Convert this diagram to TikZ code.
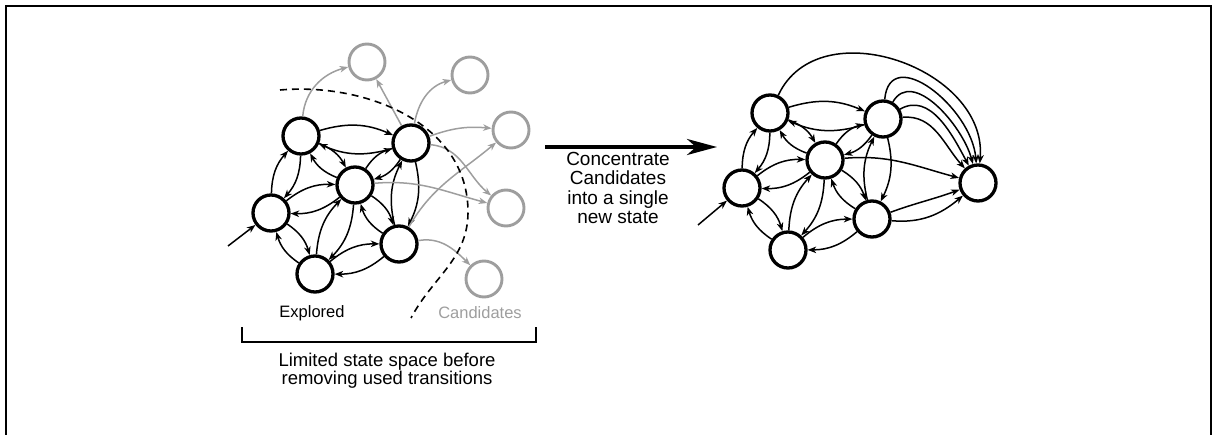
\documentclass[tikz,border=0pt]{standalone}
\usepackage{fontspec}
\setmainfont{Liberation Sans}
\usetikzlibrary{arrows.meta,positioning}
\definecolor{candgray}{RGB}{158,158,158}
\tikzset{
  every picture/.style = {
    x = 1pt,
    y = 1pt,
    >={Stealth[length=8.5pt,width=6.5pt,inset=2.5pt]},
  }
  ,
  state/.style = {
    circle,
    draw,
    fill = white,
    line width = 3.3pt,
    minimum size = 36pt,
    inner sep = 0pt
  }
  , % states not yet explored
  cand/.style = {
    state,
    draw = candgray,
    line width = 2.9pt
  }
  , % transitions inside the explored part
  trans/.style = {
    ->,
    line width = 1.5pt,
    bend left = 20
  }
  , % transitions leaving the explored part
  cand-trans/.style = {
    ->,
    line width = 1.5pt,
    draw = candgray
  }
  ,
  label-text/.style = {
    font = \fontsize{18.5}{18}\selectfont,
    align = center
  }
}

\begin{document}
\begin{tikzpicture}
\useasboundingbox (0,0) rectangle (1217,434);
\draw[line width=2pt] (6,-5) |- (1211,428) -- (1211,-5);

% explored states
\node [state] (ex1) at (301,298) {};
\node [state] (ex2) at (411,291) {};
\node [state] (ex3) at (355,249) {};
\node [state] (ex4) at (271,221) {};
\node [state] (ex5) at (315,160) {};
\node [state] (ex6) at (399,190) {};
% candidates
\node [cand] (cand1) at (367,372) {};
\node [cand] (cand2) at (470,359) {};
\node [cand] (cand3) at (511,304) {};
\node [cand] (cand4) at (506,226) {};
\node [cand] (cand5) at (484,155) {};

\coordinate (init1) at (228,188);
\draw [->, line width=1.5pt] (init1) -- (ex4);

\path (ex1) edge [trans] (ex2) (ex2) edge [trans] (ex1)
      (ex1) edge [trans] (ex3) (ex3) edge [trans] (ex1)
      (ex1) edge [trans] (ex4) (ex4) edge [trans] (ex1)
      (ex2) edge [trans] (ex3) (ex3) edge [trans] (ex2)
      (ex2) edge [trans] (ex6) (ex6) edge [trans] (ex2)
      (ex3) edge [trans] (ex4) (ex4) edge [trans] (ex3)
      (ex3) edge [trans] (ex5) (ex5) edge [trans] (ex3)
      (ex3) edge [trans] (ex6) (ex6) edge [trans] (ex3)
      (ex4) edge [trans] (ex5) (ex5) edge [trans] (ex4)
      (ex5) edge [trans] (ex6) (ex6) edge [trans] (ex5);

\path (ex1) edge [cand-trans, out=85, in=195] (cand1)
      (ex2) edge [cand-trans] (cand1)
      (ex2) edge [cand-trans, out=80, in=195] (cand2)
      (ex2) edge [cand-trans, out=20, in=175] (cand3)
      (ex2) edge [cand-trans, out=-5, in=140] (cand4)
      (ex3) edge [cand-trans, out=5, in=165] (cand4)
      (ex6) edge [cand-trans, out=60, in=220] (cand3)
      (ex6) edge [cand-trans, out=10, in=135] (cand5);

\draw [dash pattern=on 7pt off 5pt, line width=1.6pt] (280,344) to [out=5, in=90] (468,222) to [out=-90, in=62] (411,116);

\node [label-text, font=\fontsize{16.5}{18}\selectfont] (explored) at (312,121) {Explored};
\node [label-text, font=\fontsize{16.5}{18}\selectfont, text=candgray] (candidates) at (480,121) {Candidates};
\draw [line width=1.6pt] (242,107) |- (536,92) -- (536,107);
\node [label-text] (limited) at (387,63) {Limited state space before\\removing used transitions};

% concentration step
\coordinate (step-from) at (545,287);
\coordinate (step-to) at (717,287);
\draw [-{Stealth[length=30pt,width=16pt,inset=9pt]}, line width=3.5pt] (step-from) -- (step-to);
\node [label-text, font=\fontsize{19}{19.5}\selectfont] (concentrate) at (618,246) {Concentrate\\Candidates\\into a single\\new state};

% reduced state space
\node [state] (sh1) at (770,321) {};
\node [state] (sh2) at (883,315) {};
\node [state] (sh3) at (825,274) {};
\node [state] (sh4) at (742,246) {};
\node [state] (sh5) at (788,184) {};
\node [state] (sh6) at (872,215) {};
\node [state] (new) at (978,251) {};

\coordinate (init2) at (698,209);
\draw [->, line width=1.5pt] (init2) -- (sh4);

\path (sh1) edge [trans] (sh2) (sh2) edge [trans] (sh1)
      (sh1) edge [trans] (sh3) (sh3) edge [trans] (sh1)
      (sh1) edge [trans] (sh4) (sh4) edge [trans] (sh1)
      (sh2) edge [trans] (sh3) (sh3) edge [trans] (sh2)
      (sh2) edge [trans] (sh6) (sh6) edge [trans] (sh2)
      (sh3) edge [trans] (sh4) (sh4) edge [trans] (sh3)
      (sh3) edge [trans] (sh5) (sh5) edge [trans] (sh3)
      (sh3) edge [trans] (sh6) (sh6) edge [trans] (sh3)
      (sh4) edge [trans] (sh5) (sh5) edge [trans] (sh4)
      (sh5) edge [trans] (sh6) (sh6) edge [trans] (sh5);

\path (sh1) edge [->, line width=1.5pt, out=65, in=85, looseness=1.15] (new)
      (sh2) edge [->, line width=1.5pt, out=85, in=95, looseness=1.3] (new)
      (sh2) edge [->, line width=1.5pt, out=60, in=105] (new)
      (sh2) edge [->, line width=1.5pt, out=30, in=118] (new)
      (sh2) edge [->, line width=1.5pt, out=5, in=132] (new)
      (sh3) edge [->, line width=1.5pt, out=5, in=165] (new)
      (sh6) edge [->, line width=1.5pt, out=20, in=200] (new)
      (sh6) edge [->, line width=1.5pt, out=-5, in=220] (new);
\end{tikzpicture}
\end{document}
